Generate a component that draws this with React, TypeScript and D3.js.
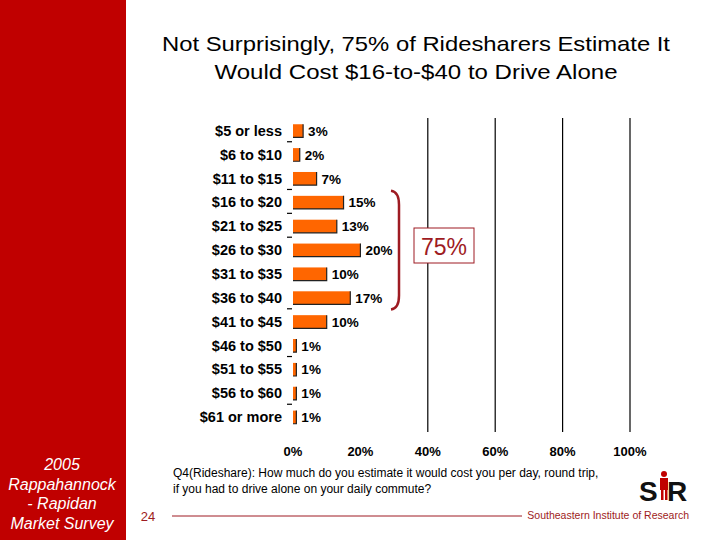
import * as d3 from "d3";
import React from "react";

// data
const categories = [
  "$5 or less", "$6 to $10", "$11 to $15", "$16 to $20", "$21 to $25", "$26 to $30",
  "$31 to $35", "$36 to $40", "$41 to $45", "$46 to $50", "$51 to $55", "$56 to $60", "$61 or more",
];
const shares = [3, 2, 7, 15, 13, 20, 10, 17, 10, 1, 1, 1, 1];
const xTicks = [0, 20, 40, 60, 80, 100];
const gridTicks = [40, 60, 80, 100];
// the little stray tick marks on the category axis (boundary index below a row)
const tickBoundaries = [1, 3, 4, 5, 8, 10, 12];
const bracketFrom = "$16 to $20";
const bracketTo = "$36 to $40";
const bracketTotal = "75%";
const titleLines = [
  "Not Surprisingly, 75% of Ridesharers Estimate It",
  "Would Cost $16-to-$40 to Drive Alone",
];
const titleWidths = [508, 403];
const sideLines = ["2005", "Rappahannock", "- Rapidan", "Market Survey"];
const noteLines = [
  "Q4(Rideshare): How much do you estimate it would cost you per day, round trip,",
  "if you had to drive alone on your daily commute?",
];

const W = 720;
const H = 540;
const font = "'Liberation Sans', Arial, sans-serif";
const red = "#c00000";
const dark = "#9e1b22";

export default function App() {
  const x = d3.scaleLinear().domain([0, 100]).range([293, 630]);
  const y = d3.scaleBand<string>().domain(categories).range([119, 429]).paddingInner(0.45).paddingOuter(0.22);
  const step = y.step();

  const bTop = (y(bracketFrom) || 0) - 5;
  const bBot = (y(bracketTo) || 0) + y.bandwidth() + 5;
  const bx = 397;

  return (
    <svg width={W} height={H} viewBox={`0 0 ${W} ${H}`}
      style={{ position: "absolute", left: 0, top: 0, background: "#fff" }}>
      <rect x={0} y={0} width={W} height={H} fill="#fff" />
      {/* left band */}
      <rect x={0} y={0} width={126} height={H} fill={red} />
      {sideLines.map((t, i) => (
        <text key={t} x={62} y={470 + i * 19.5} textAnchor="middle" fill="#fff"
          fontFamily={font} fontStyle="italic" fontSize={16}>{t}</text>
      ))}

      {/* title */}
      {titleLines.map((t, i) => (
        <text key={t} x={416} y={51 + i * 28} textAnchor="middle" fill="#000"
          fontFamily={font} fontSize={21} textLength={titleWidths[i]} lengthAdjust="spacingAndGlyphs">{t}</text>
      ))}

      {/* grid lines */}
      {gridTicks.map((t) => (
        <line key={t} x1={x(t)} x2={x(t)} y1={118} y2={432} stroke="#000" strokeWidth={1.2} />
      ))}

      {/* category tick marks */}
      {tickBoundaries.map((b) => {
        const yy = 119 + y.paddingOuter() * step + b * step - (step - y.bandwidth()) / 2 - 1;
        return <line key={b} x1={287} x2={292} y1={yy} y2={yy} stroke="#000" strokeWidth={1.2} />;
      })}

      {/* bars */}
      {categories.map((c, i) => {
        const y0 = y(c) || 0;
        const x1 = x(shares[i]);
        const h = y.bandwidth();
        return (
          <g key={c}>
            <text x={282} y={y0 + h / 2 + 5} textAnchor="end" fontFamily={font}
              fontWeight="bold" fontSize={14.5} fill="#000">{c}</text>
            <rect x={x(0)} y={y0} width={x1 - x(0)} height={h} fill="#ff6600" />
            <path d={`M${x1},${y0} V${y0 + h} H${x(0)}`} fill="none" stroke="#222" strokeWidth={1.2} />
            <text x={x1 + 5} y={y0 + h / 2 + 5} fontFamily={font} fontWeight="bold"
              fontSize={13.5} fill="#000">{shares[i]}%</text>
          </g>
        );
      })}

      {/* bracket and total */}
      <path d={`M${bx - 6},${bTop} Q${bx + 2},${bTop + 1} ${bx + 2},${bTop + 14} V${bBot - 14} Q${bx + 2},${bBot - 1} ${bx - 6},${bBot}`}
        fill="none" stroke={dark} strokeWidth={2.5} />
      <rect x={414} y={228} width={60} height={35} fill="#fff" stroke={dark} strokeWidth={1} />
      <text x={444} y={255} textAnchor="middle" fontFamily={font} fontSize={23} fill={dark}>{bracketTotal}</text>

      {/* x axis labels */}
      {xTicks.map((t) => (
        <text key={t} x={x(t)} y={456} textAnchor="middle" fontFamily={font}
          fontWeight="bold" fontSize={13} fill="#000">{t}%</text>
      ))}

      {/* question note */}
      {noteLines.map((t, i) => (
        <text key={t} x={173} y={477 + i * 16} fontFamily={font} fontSize={12} fill="#000">{t}</text>
      ))}

      {/* footer */}
      <text x={148} y={521} textAnchor="middle" fontFamily={font} fontSize={13} fill={dark}>24</text>
      <line x1={172} x2={522} y1={516} y2={516} stroke={dark} strokeWidth={1} />
      <text x={689} y={519} textAnchor="end" fontFamily={font} fontSize={10.5} fill={dark}>Southeastern Institute of Research</text>

      {/* logo */}
      <g>
        <text x={639} y={501} fontFamily={font} fontWeight="bold" fontSize={28} fill="#111">S</text>
        <text x={667} y={501} fontFamily={font} fontWeight="bold" fontSize={28} fill="#111">R</text>
        <circle cx={664} cy={474} r={3} fill={red} />
        <rect x={660} y={478} width={8} height={12} fill={red} />
        <rect x={661} y={489} width={2.5} height={11} fill={red} />
        <rect x={665} y={489} width={2.5} height={11} fill={red} />
      </g>
    </svg>
  );
}
